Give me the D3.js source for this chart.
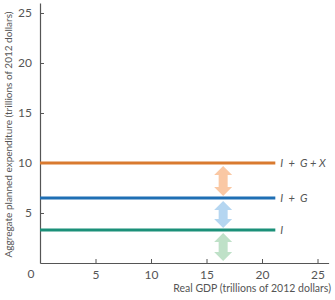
<!DOCTYPE html>
<html>
<head>
<meta charset="utf-8">
<script src="https://cdn.jsdelivr.net/npm/d3@7"></script>
<style>
  body { margin: 0; background: #fff; }
  text { font-family: Lato, "Open Sans", sans-serif; }
</style>
</head>
<body>
<div id="chart"></div>
<script>
// values in trillions of 2012 dollars
const seriesNames = ["I", "I  +  G", "I  +  G + X"];
const seriesValues = [3.3, 6.5, 10];
const lineEndX = 21.2;
const arrowX = 16.5;
const xTicks = [5, 10, 15, 20, 25];
const yTicks = [5, 10, 15, 20, 25];
const lineColors = ["#1b9079", "#1f6fb4", "#d97a2f"];
const arrowColors = ["#bfe1c8", "#b5d6f1", "#fac8a4"];

const width = 335, height = 300;
const margin = { top: 3, right: 5, bottom: 37, left: 40 };

const svg = d3.select("#chart").append("svg")
  .attr("width", width)
  .attr("height", height);

const x = d3.scaleLinear().domain([0, 26]).range([margin.left, margin.left + 26 * 11.1]);
const y = d3.scaleLinear().domain([0, 26]).range([263, 3]);

// axes
const xAxis = svg.append("g")
  .attr("transform", `translate(0,${y(0)})`)
  .call(d3.axisBottom(x).tickValues(xTicks).tickSizeInner(-4).tickSizeOuter(0).tickPadding(7));
const yAxis = svg.append("g")
  .attr("transform", `translate(${x(0)},0)`)
  .call(d3.axisLeft(y).tickValues(yTicks).tickSizeInner(-4).tickSizeOuter(0).tickPadding(8));

[xAxis, yAxis].forEach(g => {
  g.select(".domain").attr("stroke", "#555").attr("stroke-width", 1.2);
  g.selectAll(".tick line").attr("stroke", "#555");
  g.selectAll(".tick text").attr("fill", "#555").style("font-size", "12px").style("font-family", "Lato, sans-serif");
});

svg.append("text")
  .attr("x", x(0) - 9)
  .attr("y", y(0) + 15)
  .attr("text-anchor", "middle")
  .attr("fill", "#555")
  .style("font-size", "12px")
  .text("0");

svg.append("text")
  .attr("x", 331)
  .attr("y", 292)
  .attr("text-anchor", "end")
  .attr("fill", "#555")
  .style("font-size", "10.5px")
  .text("Real GDP (trillions of 2012 dollars)");

svg.append("text")
  .attr("transform", `translate(12,${(y(0) + 6) / 2}) rotate(-90)`)
  .attr("text-anchor", "middle")
  .attr("fill", "#555")
  .style("font-size", "10px")
  .text("Aggregate planned expenditure (trillions of 2012 dollars)");

// arrows between levels
const bounds = [0].concat(seriesValues);
function arrowPath(y0, y1, cx) {
  const hw = 9, sw = 4.5, hh = 9;
  return `M${cx},${y0} L${cx + hw},${y0 + hh} L${cx + sw},${y0 + hh} L${cx + sw},${y1 - hh}
    L${cx + hw},${y1 - hh} L${cx},${y1} L${cx - hw},${y1 - hh} L${cx - sw},${y1 - hh}
    L${cx - sw},${y0 + hh} L${cx - hw},${y0 + hh} Z`;
}
seriesValues.forEach((v, i) => {
  svg.append("path")
    .attr("d", arrowPath(y(v) + 3, y(bounds[i]) - 2, x(arrowX)))
    .attr("fill", arrowColors[i]);
});

// lines
seriesValues.forEach((v, i) => {
  svg.append("line")
    .attr("x1", x(0))
    .attr("x2", x(lineEndX))
    .attr("y1", y(v))
    .attr("y2", y(v))
    .attr("stroke", lineColors[i])
    .attr("stroke-width", 3);

  svg.append("text")
    .attr("x", x(lineEndX) + 5)
    .attr("y", y(v))
    .attr("dy", "0.35em")
    .attr("fill", "#555")
    .style("font-size", "11px")
    .style("font-style", "italic")
    .style("white-space", "pre")
    .text(seriesNames[i]);
});
</script>
</body>
</html>
